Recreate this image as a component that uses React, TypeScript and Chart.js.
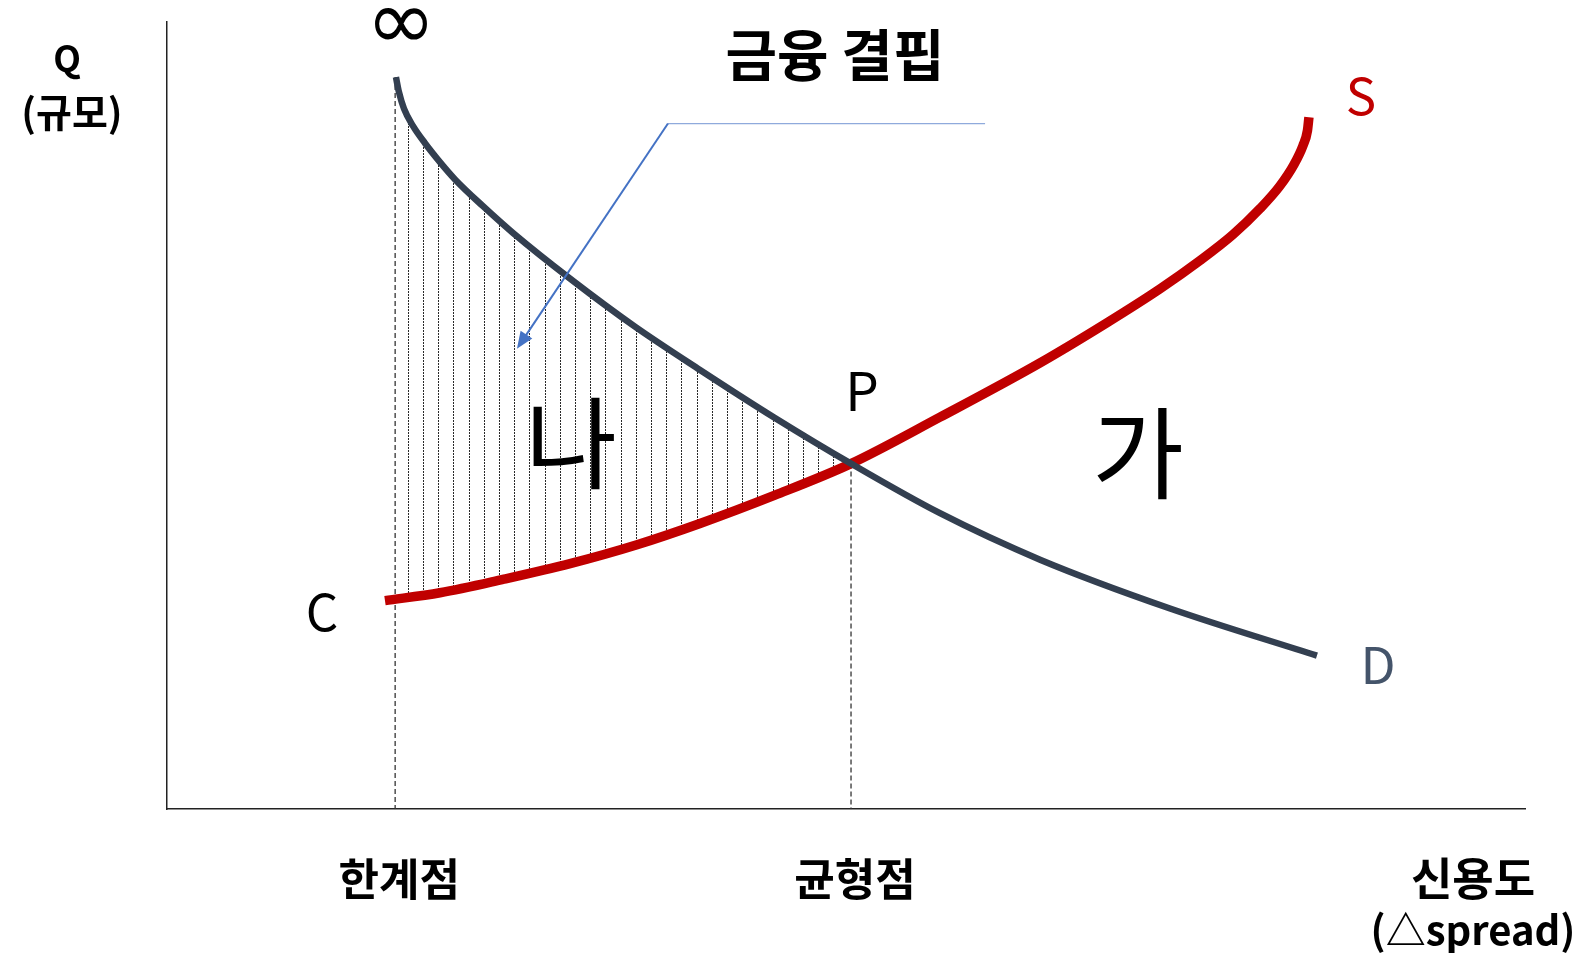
import React, { useEffect, useRef } from "react";
import { Chart, registerables } from "chart.js";

Chart.register(...registerables);

// ---- Data (x: 신용도 0..100, y: Q 0..100) ----
const demandX = [16.86, 17.08, 17.45, 18.11, 19.0, 20.1, 21.21, 23.27, 25.48, 29.68, 34.46, 39.25, 44.77, 50.37, 56.92, 64.29, 73.86, 84.68];
const demandY = [93.0, 91.1, 89.0, 86.8, 84.6, 82.2, 80.0, 76.6, 73.2, 67.4, 61.3, 55.8, 49.7, 43.9, 37.6, 31.7, 25.5, 19.5];

const supplyX = [16.05, 20.1, 24.74, 29.68, 34.61, 39.25, 44.77, 50.37, 56.92, 64.29, 69.22, 73.12, 76.07, 78.5, 80.49, 81.96, 82.99, 83.65, 83.98, 84.09];
const supplyY = [26.5, 27.5, 29.2, 31.2, 33.6, 36.3, 39.9, 43.9, 49.8, 56.7, 61.8, 66.1, 69.7, 73.0, 76.3, 79.2, 81.9, 84.3, 86.2, 87.9];

const limitX = 16.8;
const limitTopY = 93.0;
const equilibriumX = 50.37;
const equilibriumY = 43.9;

const tickValues = [limitX, equilibriumX];
const tickLabels = ["한계점", "균형점"];

// ---- Annotation layout (data coordinates) ----
const KR = "'Noto Sans CJK KR', 'Noto Sans', sans-serif";
const labels = [
  { text: "∞", x: 17.23, y: 99.4, font: `84px 'DejaVu Sans'`, color: "#000" },
  { text: "금융 결핍", x: 49.19, y: 95.8, font: `bold 56px ${KR}`, color: "#000" },
  { text: "S", x: 87.92, y: 90.7, font: `51px ${KR}`, color: "#C00000" },
  { text: "D", x: 89.18, y: 18.4, font: `51px ${KR}`, color: "#44546A" },
  { text: "C", x: 11.41, y: 25.1, font: `51px ${KR}`, color: "#000" },
  { text: "P", x: 51.18, y: 53.2, font: `53px ${KR}`, color: "#000" },
  { text: "나", x: 29.75, y: 46.5, font: `100px ${KR}`, color: "#000" },
  { text: "가", x: 71.5, y: 45.2, font: `100px ${KR}`, color: "#000" },
  { text: "신용도", x: 96.17, y: -8.8, font: `bold 45px ${KR}`, color: "#000" },
  { text: "(△spread)", x: 96.17, y: -15.3, font: `bold 40px ${KR}`, color: "#000" },
  { text: "Q", x: -7.36, y: 95.4, font: `bold 36px ${KR}`, color: "#000" },
  { text: "(규모)", x: -7.0, y: 88.6, font: `bold 39px ${KR}`, color: "#000" },
];

const callout = {
  start: { x: 60.24, y: 87.1 },
  elbow: { x: 36.89, y: 87.1 },
  tip: { x: 25.77, y: 58.5 },
};

const textPlugin = {
  id: "annotations",
  afterDraw(chart: any) {
    const { ctx, scales } = chart;
    const sx = (v: number) => scales.x.getPixelForValue(v);
    const sy = (v: number) => scales.y.getPixelForValue(v);
    ctx.save();
    // callout line
    const s = { x: sx(callout.start.x), y: sy(callout.start.y) };
    const e = { x: sx(callout.elbow.x), y: sy(callout.elbow.y) };
    const t = { x: sx(callout.tip.x), y: sy(callout.tip.y) };
    ctx.strokeStyle = "#8FAADC";
    ctx.lineWidth = 1.3;
    ctx.beginPath();
    ctx.moveTo(s.x, s.y);
    ctx.lineTo(e.x, e.y);
    ctx.stroke();
    const dx = t.x - e.x;
    const dy = t.y - e.y;
    const len = Math.hypot(dx, dy);
    const ux = dx / len;
    const uy = dy / len;
    const headLen = 17;
    const headW = 7;
    ctx.strokeStyle = "#4472C4";
    ctx.lineWidth = 2;
    ctx.beginPath();
    ctx.moveTo(e.x, e.y);
    ctx.lineTo(t.x - ux * headLen * 0.8, t.y - uy * headLen * 0.8);
    ctx.stroke();
    ctx.fillStyle = "#4472C4";
    ctx.beginPath();
    ctx.moveTo(t.x, t.y);
    ctx.lineTo(t.x - ux * headLen - uy * headW, t.y - uy * headLen + ux * headW);
    ctx.lineTo(t.x - ux * headLen + uy * headW, t.y - uy * headLen - ux * headW);
    ctx.closePath();
    ctx.fill();
    // labels
    ctx.textAlign = "center";
    ctx.textBaseline = "middle";
    for (const l of labels) {
      ctx.font = l.font;
      ctx.fillStyle = l.color;
      ctx.fillText(l.text, sx(l.x), sy(l.y));
    }
    ctx.restore();
  },
};

export default function App() {
  const ref = useRef<HTMLCanvasElement>(null);
  useEffect(() => {
    const canvas = ref.current!;
    const pc = document.createElement("canvas");
    pc.width = 76;
    pc.height = 3;
    const p = pc.getContext("2d")!;
    p.fillStyle = "#2a2a2a";
    for (const off of [13, 28, 43, 58, 73]) p.fillRect(off, 0, 1, 2);
    const hatch = canvas.getContext("2d")!.createPattern(pc, "repeat")!;

    const chart = new Chart(canvas, {
      type: "line",
      data: {
        datasets: [
          {
            label: "D",
            data: demandX.map((x, i) => ({ x, y: demandY[i] })),
            borderColor: "#333F50",
            borderWidth: 6.5,
            pointRadius: 0,
            cubicInterpolationMode: "monotone",
            fill: { target: 1, above: hatch, below: "rgba(0,0,0,0)" },
          },
          {
            label: "S",
            data: supplyX.map((x, i) => ({ x, y: supplyY[i] })),
            borderColor: "#C00000",
            borderWidth: 9.5,
            pointRadius: 0,
            cubicInterpolationMode: "monotone",
            fill: false,
          },
          {
            label: "한계점",
            data: [
              { x: limitX, y: limitTopY },
              { x: limitX, y: 0 },
            ],
            borderColor: "#333333",
            borderWidth: 1.3,
            borderDash: [5, 3],
            pointRadius: 0,
            fill: false,
          },
          {
            label: "균형점",
            data: [
              { x: equilibriumX, y: equilibriumY },
              { x: equilibriumX, y: 0 },
            ],
            borderColor: "#333333",
            borderWidth: 1.3,
            borderDash: [5, 3],
            pointRadius: 0,
            fill: false,
          },
        ],
      } as any,
      options: {
        responsive: false,
        maintainAspectRatio: false,
        animation: false,
        layout: { padding: { left: 167, top: 22, right: 61, bottom: 3 } },
        plugins: {
          legend: { display: false },
          tooltip: { enabled: false },
          filler: { drawTime: "beforeDatasetsDraw" },
        } as any,
        scales: {
          x: {
            type: "linear",
            min: 0,
            max: 100,
            grid: { display: false, drawTicks: false },
            border: { display: true, color: "#222", width: 1.5 },
            afterBuildTicks: (axis: any) => {
              axis.ticks = tickValues.map((v) => ({ value: v }));
            },
            ticks: {
              autoSkip: false,
              maxRotation: 0,
              padding: 44,
              labelOffset: 4,
              color: "#000",
              font: { family: KR, size: 44, weight: "bold" },
              callback: (_v: any, i: number) => tickLabels[i],
            },
          },
          y: {
            type: "linear",
            min: 0,
            max: 100,
            grid: { display: false, drawTicks: false },
            border: { display: true, color: "#222", width: 1.5 },
            ticks: { display: false },
          },
        },
      } as any,
      plugins: [textPlugin],
    });
    return () => chart.destroy();
  }, []);
  return (
    <div style={{ position: "fixed", left: 0, top: 0, width: 1586, height: 953, background: "#fff" }}>
      <canvas ref={ref} width={1586} height={953} style={{ display: "block", width: 1586, height: 953 }} />
    </div>
  );
}
